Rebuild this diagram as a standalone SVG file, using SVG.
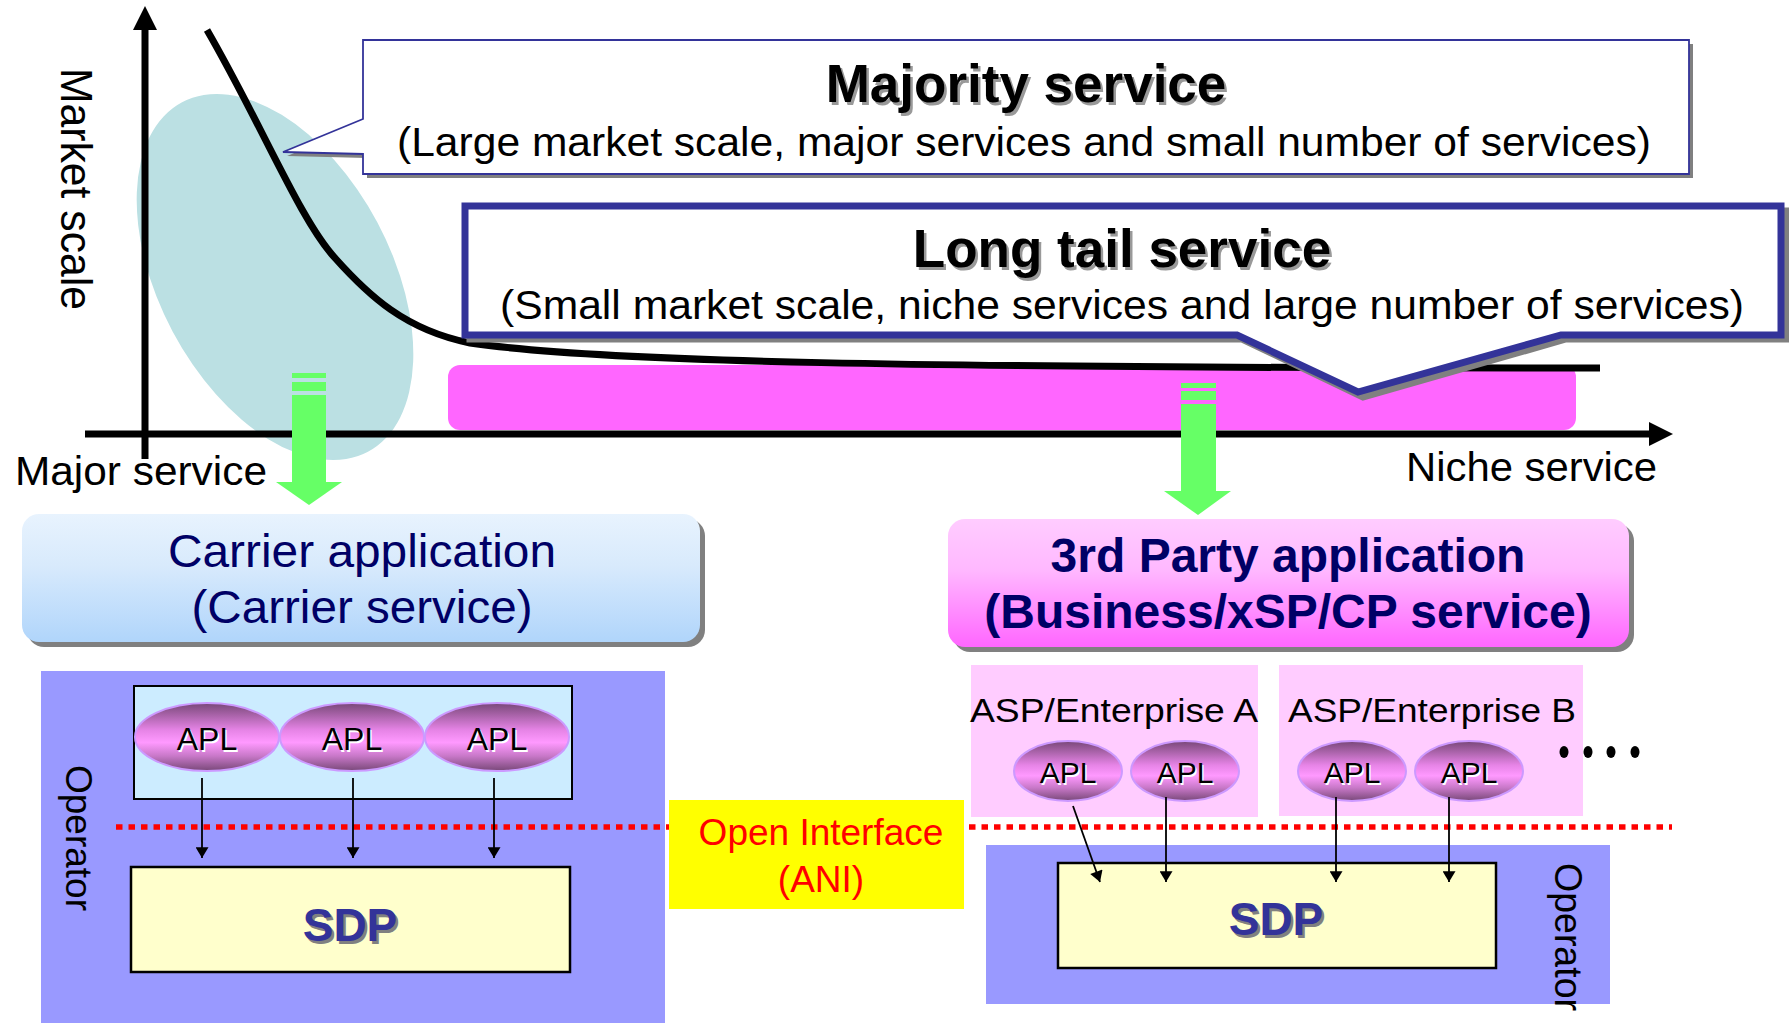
<svg xmlns="http://www.w3.org/2000/svg" width="1789" height="1023" viewBox="0 0 1789 1023">
<defs>
<style>
text{font-family:"Liberation Sans",Arial,sans-serif}
.b{font-weight:bold}
.apl{font-size:32px;text-anchor:middle}
.apls{font-size:30px;text-anchor:middle}
.ax{stroke:#000;stroke-width:7;fill:none}
.conn{stroke:#000;stroke-width:1.8;fill:none}
.dot{stroke:#FF0000;stroke-width:5.5;stroke-dasharray:6.5 6;fill:none}
.green{fill:#66FF66}
.shadow{fill:#808080}
.sdp{fill:#FFFFCC;stroke:#000;stroke-width:2.5}
.op{fill:#9999FF}
.ent{fill:#FFCCFF}
.ellA{fill:url(#aplG);stroke:#CC99FF;stroke-width:2}
</style>
<linearGradient id="aplG" x1="0" y1="0" x2="0" y2="1">
<stop offset="0" stop-color="#784878"/>
<stop offset="0.4" stop-color="#E684E6"/>
<stop offset="0.58" stop-color="#FF99FF"/>
<stop offset="0.78" stop-color="#C878C8"/>
<stop offset="1" stop-color="#784878"/>
</linearGradient>
<linearGradient id="carG" x1="0" y1="0" x2="0" y2="1">
<stop offset="0" stop-color="#E8F3FE"/>
<stop offset="0.4" stop-color="#D8EAFC"/>
<stop offset="1" stop-color="#B0D5FB"/>
</linearGradient>
<linearGradient id="tpG" x1="0" y1="0" x2="0" y2="1">
<stop offset="0" stop-color="#FFCCFF"/>
<stop offset="0.4" stop-color="#FFB8FF"/>
<stop offset="1" stop-color="#FF66FF"/>
</linearGradient>
<marker id="ah" viewBox="0 0 10 12" refX="10" refY="6" markerWidth="15" markerHeight="13" markerUnits="userSpaceOnUse" orient="auto">
<path d="M0,0 L10,6 L0,12 Z" fill="#000"/>
</marker>
</defs>

<rect width="1789" height="1023" fill="#FFFFFF"/>

<g id="chart">
<ellipse cx="275" cy="277" rx="116" ry="198" transform="rotate(-28 275 277)" fill="#BBE0E3"/>
<rect x="448" y="365" width="1128" height="65" rx="12" fill="#FF66FF"/>
<path class="ax" d="M207,30 C262,125 300,220 335,258 C368,295 405,330 470,343 C600,362 900,368 1600,368"/>
<line class="ax" x1="145" y1="459" x2="145" y2="28"/>
<polygon points="145,6 133,30 157,30" fill="#000"/>
<line class="ax" x1="85" y1="434" x2="1652" y2="434"/>
<polygon points="1673,434 1649,422 1649,446" fill="#000"/>
<text transform="translate(61,68) rotate(90)" font-size="44" textLength="242" lengthAdjust="spacingAndGlyphs">Market scale</text>
<text x="15" y="485" font-size="40" textLength="252" lengthAdjust="spacingAndGlyphs">Major service</text>
<text x="1406" y="481" font-size="40" textLength="251" lengthAdjust="spacingAndGlyphs">Niche service</text>
</g>

<g id="majority">
<path class="shadow" d="M367,44 H1693 V178 H367 V158 L287,156 L367,123 Z"/>
<path d="M363,40 H1689 V174 H363 V154 L283,152 L363,119 Z" fill="#FFFFFF" stroke="#333399" stroke-width="1.8"/>
<text x="1028.5" y="104.5" class="b" font-size="53" text-anchor="middle" fill="#999999">Majority service</text>
<text x="1026" y="102" class="b" font-size="53" text-anchor="middle">Majority service</text>
<text x="1024" y="156" font-size="41" text-anchor="middle" textLength="1254" lengthAdjust="spacingAndGlyphs">(Large market scale, major services and small number of services)</text>
</g>

<g id="longtail">
<path class="shadow" d="M470,211 H1786 V339 H1566 L1363,397 L1242,339 H470 Z" stroke="#808080" stroke-width="7"/>
<path d="M465,206 H1781 V335 H1561 L1358,392 L1237,335 H465 Z" fill="#FFFFFF" stroke="#333399" stroke-width="7" stroke-linejoin="miter"/>
<text x="1124.5" y="269.5" class="b" font-size="53" text-anchor="middle" fill="#999999">Long tail service</text>
<text x="1122" y="267" class="b" font-size="53" text-anchor="middle">Long tail service</text>
<text x="1122" y="319" font-size="41" text-anchor="middle" textLength="1244" lengthAdjust="spacingAndGlyphs">(Small market scale, niche services and large number of services)</text>
</g>

<g id="green-arrows">
<g id="arrow-left">
<rect class="green" x="292" y="373" width="34" height="5"/>
<rect class="green" x="292" y="382" width="34" height="9"/>
<rect class="green" x="292" y="395" width="34" height="88"/>
<polygon class="green" points="276,482 342,482 309,505"/>
</g>
<g id="arrow-right">
<rect class="green" x="1181" y="383" width="35" height="5"/>
<rect class="green" x="1181" y="391" width="35" height="9"/>
<rect class="green" x="1181" y="404" width="35" height="88"/>
<polygon class="green" points="1164,491 1231,491 1198,515"/>
</g>
</g>

<g id="carrier-app">
<rect class="shadow" x="27" y="519" width="678" height="128" rx="17"/>
<rect x="22" y="514" width="678" height="128" rx="17" fill="url(#carG)"/>
<text x="362" y="567" font-size="47" text-anchor="middle" fill="#000066" textLength="388" lengthAdjust="spacingAndGlyphs">Carrier application</text>
<text x="362" y="623" font-size="47" text-anchor="middle" fill="#000066" textLength="341" lengthAdjust="spacingAndGlyphs">(Carrier service)</text>
</g>

<g id="thirdparty-app">
<rect class="shadow" x="953" y="524" width="681" height="128" rx="17"/>
<rect x="948" y="519" width="681" height="128" rx="17" fill="url(#tpG)"/>
<text x="1288" y="572" class="b" font-size="48" text-anchor="middle" fill="#000066">3rd Party application</text>
<text x="1288" y="628" class="b" font-size="48" text-anchor="middle" fill="#000066">(Business/xSP/CP service)</text>
</g>

<g id="operator-left">
<rect class="op" x="41" y="671" width="624" height="352"/>
<text transform="translate(66,765) rotate(90)" font-size="37" textLength="146" lengthAdjust="spacingAndGlyphs">Operator</text>
</g>

<g id="carrier-apl-box">
<rect x="134" y="686" width="438" height="113" fill="#CCECFF" stroke="#000" stroke-width="2"/>
</g>
<g id="apl-l1"><ellipse class="ellA" cx="207" cy="737" rx="72" ry="34"/><text class="apl" x="208.5" y="751.5" fill="#FFF">APL</text><text class="apl" x="207" y="750">APL</text></g>
<g id="apl-l2"><ellipse class="ellA" cx="352" cy="737" rx="72" ry="34"/><text class="apl" x="353.5" y="751.5" fill="#FFF">APL</text><text class="apl" x="352" y="750">APL</text></g>
<g id="apl-l3"><ellipse class="ellA" cx="497" cy="737" rx="72" ry="34"/><text class="apl" x="498.5" y="751.5" fill="#FFF">APL</text><text class="apl" x="497" y="750">APL</text></g>

<g id="sdp-left">
<rect class="sdp" x="131" y="867" width="439" height="105"/>
<text x="352.5" y="943.5" class="b" font-size="46" text-anchor="middle" fill="#808080">SDP</text>
<text x="350" y="941" class="b" font-size="46" text-anchor="middle" fill="#333399">SDP</text>
</g>

<g id="open-interface">
<rect x="669" y="800" width="295" height="109" fill="#FFFF00"/>
<text x="821" y="845" font-size="37" text-anchor="middle" fill="#FF0000">Open Interface</text>
<text x="821" y="892" font-size="37" text-anchor="middle" fill="#FF0000">(ANI)</text>
</g>

<g id="enterprise-a">
<rect class="ent" x="971" y="665" width="287" height="152"/>
<text x="970" y="722" font-size="34" textLength="288" lengthAdjust="spacingAndGlyphs">ASP/Enterprise A</text>
</g>
<g id="enterprise-b">
<rect class="ent" x="1279" y="665" width="304" height="151"/>
<text x="1288" y="722" font-size="34" textLength="288" lengthAdjust="spacingAndGlyphs">ASP/Enterprise B</text>
</g>
<g id="apl-r1"><ellipse class="ellA" cx="1068" cy="771" rx="54" ry="30"/><text class="apls" x="1069.5" y="784.5" fill="#FFF">APL</text><text class="apls" x="1068" y="783">APL</text></g>
<g id="apl-r2"><ellipse class="ellA" cx="1185" cy="771" rx="54" ry="30"/><text class="apls" x="1186.5" y="784.5" fill="#FFF">APL</text><text class="apls" x="1185" y="783">APL</text></g>
<g id="apl-r3"><ellipse class="ellA" cx="1352" cy="771" rx="54" ry="30"/><text class="apls" x="1353.5" y="784.5" fill="#FFF">APL</text><text class="apls" x="1352" y="783">APL</text></g>
<g id="apl-r4"><ellipse class="ellA" cx="1469" cy="771" rx="54" ry="30"/><text class="apls" x="1470.5" y="784.5" fill="#FFF">APL</text><text class="apls" x="1469" y="783">APL</text></g>

<g id="more-dots" fill="#000">
<ellipse cx="1564" cy="752" rx="4.5" ry="6"/>
<ellipse cx="1588" cy="752" rx="4.5" ry="6"/>
<ellipse cx="1611" cy="752" rx="4.5" ry="6"/>
<ellipse cx="1635" cy="752" rx="4.5" ry="6"/>
</g>

<g id="operator-right">
<rect class="op" x="986" y="845" width="624" height="159"/>
<text transform="translate(1555,863) rotate(90)" font-size="38" textLength="148" lengthAdjust="spacingAndGlyphs">Operator</text>
</g>
<g id="sdp-right">
<rect class="sdp" x="1058" y="863" width="438" height="105"/>
<text x="1278.5" y="937.5" class="b" font-size="46" text-anchor="middle" fill="#808080">SDP</text>
<text x="1276" y="935" class="b" font-size="46" text-anchor="middle" fill="#333399">SDP</text>
</g>

<g id="connectors">
<line class="dot" x1="116" y1="827" x2="669" y2="827"/>
<line class="dot" x1="969" y1="827" x2="1672" y2="827"/>
<line class="conn" x1="202" y1="778" x2="202" y2="858" marker-end="url(#ah)"/>
<line class="conn" x1="353" y1="778" x2="353" y2="858" marker-end="url(#ah)"/>
<line class="conn" x1="494" y1="778" x2="494" y2="858" marker-end="url(#ah)"/>
<line class="conn" x1="1073" y1="806" x2="1100" y2="882" marker-end="url(#ah)"/>
<line class="conn" x1="1166" y1="797" x2="1166" y2="882" marker-end="url(#ah)"/>
<line class="conn" x1="1336" y1="797" x2="1336" y2="882" marker-end="url(#ah)"/>
<line class="conn" x1="1449" y1="797" x2="1449" y2="882" marker-end="url(#ah)"/>
</g>
</svg>
